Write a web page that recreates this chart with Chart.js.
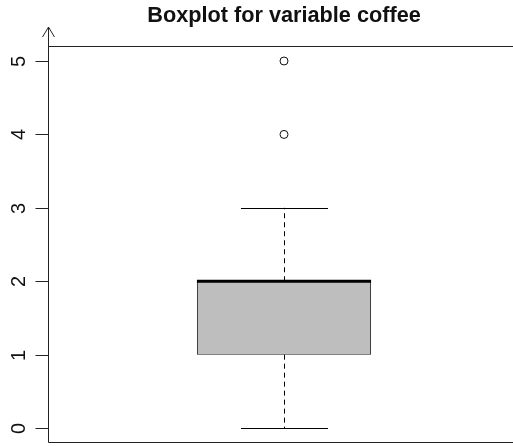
<!DOCTYPE html>
<html>
<head>
<meta charset="utf-8">
<script src="https://cdn.jsdelivr.net/npm/chart.js@4"></script>
<style>
  html, body { margin: 0; padding: 0; background: #fff; overflow: hidden; }
  #wrap { width: 513px; height: 446px; overflow: hidden; }
  canvas { display: block; }
</style>
</head>
<body>
<div id="wrap"><canvas id="box" width="520" height="446"></canvas></div>
<script>
// boxplot data for "coffee"
const categories = ['coffee'];
const lowerWhisker = [0];
const q1 = [1];
const median = [2];
const q3 = [2];
const upperWhisker = [3];
const outliers = [4, 5];
const yTicks = [0, 1, 2, 3, 4, 5];

const FONT = '"Liberation Sans", Arial, Helvetica, sans-serif';

// whiskers, median, frame and the rotated y axis, R style
const boxExtras = {
  id: 'boxExtras',
  afterDatasetsDraw(chart) {
    const ctx = chart.ctx;
    const y = chart.scales.y;
    const area = chart.chartArea;
    const bars = chart.getDatasetMeta(0).data;

    ctx.save();
    ctx.strokeStyle = '#000';
    bars.forEach((bar, i) => {
      const cx = Math.round(bar.x) + 0.5;
      const half = bar.width / 2;
      const capHalf = half / 2;
      const yUp = y.getPixelForValue(upperWhisker[i]);
      const yLo = y.getPixelForValue(lowerWhisker[i]);
      const yQ1 = y.getPixelForValue(q1[i]);
      const yQ3 = y.getPixelForValue(q3[i]);
      const yMed = y.getPixelForValue(median[i]);

      // dashed whiskers
      ctx.lineWidth = 1;
      ctx.setLineDash([5, 4]);
      ctx.beginPath();
      ctx.moveTo(cx, yQ3); ctx.lineTo(cx, yUp);
      ctx.moveTo(cx, yQ1); ctx.lineTo(cx, yLo);
      ctx.stroke();

      // caps
      ctx.setLineDash([]);
      ctx.beginPath();
      ctx.moveTo(cx - capHalf, Math.round(yUp) + 0.5); ctx.lineTo(cx + capHalf, Math.round(yUp) + 0.5);
      ctx.moveTo(cx - capHalf, Math.round(yLo) + 0.5); ctx.lineTo(cx + capHalf, Math.round(yLo) + 0.5);
      ctx.stroke();

      // median
      ctx.lineWidth = 3;
      ctx.beginPath();
      ctx.moveTo(bar.x - half, yMed); ctx.lineTo(bar.x + half, yMed);
      ctx.stroke();
    });

    // frame: top and bottom lines, left axis with arrow
    const L = Math.round(area.left) + 0.5;
    const T = Math.round(area.top) + 0.5;
    const B = Math.round(area.bottom) + 0.5;
    ctx.lineWidth = 1;
    ctx.strokeStyle = '#222';
    ctx.beginPath();
    ctx.moveTo(L, T); ctx.lineTo(chart.width, T);
    ctx.moveTo(L, B); ctx.lineTo(chart.width, B);
    ctx.moveTo(L, B); ctx.lineTo(L, area.top - 19);
    ctx.moveTo(L - 6, area.top - 9); ctx.lineTo(L, area.top - 19); ctx.lineTo(L + 6, area.top - 9);
    ctx.stroke();

    // y ticks + rotated labels
    ctx.fillStyle = '#111';
    ctx.font = '20px ' + FONT;
    ctx.textAlign = 'center';
    ctx.textBaseline = 'middle';
    yTicks.forEach(v => {
      const py = Math.round(y.getPixelForValue(v)) + 0.5;
      ctx.beginPath();
      ctx.moveTo(L - 13, py); ctx.lineTo(L, py);
      ctx.stroke();
      ctx.save();
      ctx.translate(19, py);
      ctx.rotate(-Math.PI / 2);
      ctx.fillText(String(v), 0, 0);
      ctx.restore();
    });
    ctx.restore();
  }
};

new Chart(document.getElementById('box'), {
  type: 'bar',
  data: {
    labels: categories,
    datasets: [
      {
        label: 'box',
        data: q1.map((v, i) => [v, q3[i]]),
        backgroundColor: '#bebebe',
        borderColor: '#222',
        borderWidth: 1,
        borderSkipped: false,
        barPercentage: 0.369,
        categoryPercentage: 1,
        order: 2,
      },
      {
        type: 'scatter',
        label: 'outliers',
        data: outliers.map(v => ({ x: categories[0], y: v })),
        pointStyle: 'circle',
        pointRadius: 4,
        pointBackgroundColor: 'rgba(0,0,0,0)',
        pointBorderColor: '#111',
        pointBorderWidth: 1,
        order: 1,
      }
    ]
  },
  options: {
    responsive: false,
    animation: false,
    devicePixelRatio: 1,
    layout: { autoPadding: false, padding: { left: 48, right: 0, top: 0, bottom: 4 } },
    plugins: {
      legend: { display: false },
      tooltip: { enabled: false },
      title: {
        display: true,
        text: 'Boxplot for variable coffee',
        fullSize: false,
        color: '#111',
        font: { family: FONT, size: 21.7, weight: 'bold', lineHeight: 1.2 },
        padding: { top: 3, bottom: 17 },
      }
    },
    scales: {
      x: { type: 'category', display: false, offset: true },
      y: { type: 'linear', display: false, min: -0.19, max: 5.204 }
    }
  },
  plugins: [boxExtras]
});
</script>
</body>
</html>
